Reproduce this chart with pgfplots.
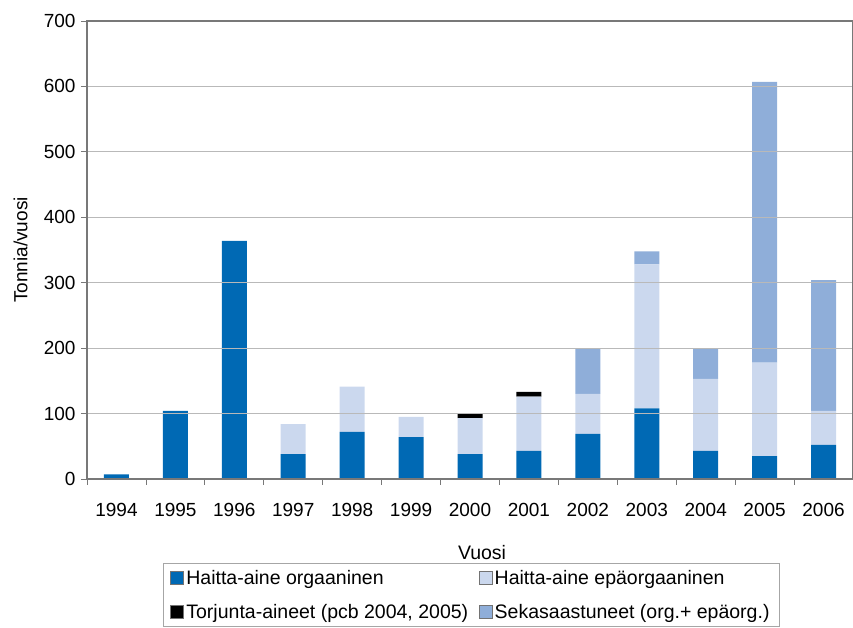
\documentclass[border=0pt]{standalone}
\usepackage{fontspec}
\setmainfont{Liberation Sans}
\usepackage{pgfplots}
\pgfplotsset{compat=1.18}
\definecolor{orgc}{RGB}{0,105,180}
\definecolor{inorgc}{RGB}{203,216,238}
\definecolor{sekac}{RGB}{143,174,217}
\definecolor{axisgray}{RGB}{120,120,120}
\definecolor{gridgray}{RGB}{185,185,185}

\begin{document}
\begin{tikzpicture}
\begin{axis}[scale only axis, width=766pt, height=458pt,
  ybar stacked, bar width=25pt,
  xmin=-0.5, xmax=12.5, ymin=0, ymax=700,
  xtick={0,1,2,3,4,5,6,7,8,9,10,11,12},
  xticklabels={1994,1995,1996,1997,1998,1999,2000,2001,2002,2003,2004,2005,2006},
  minor xtick={-0.5,0.5,...,12.5},
  ytick={0,100,...,700},
  tick align=outside, tick pos=left,
  major tick length=6pt, minor tick length=6pt,
  major x tick style={draw=none},
  tick style={axisgray, line width=0.8pt},
  ymajorgrids, grid style={gridgray, line width=0.9pt},
  axis line style={axisgray, line width=1.6pt},
  axis on top,
  /pgf/number format/assume math mode=true,
  tick label style={font=\fontsize{19}{22}\selectfont},
  xticklabel style={yshift=-15pt},
  yticklabel style={xshift=-2pt},
  ylabel={Tonnia/vuosi},
  ylabel style={at={(axis description cs:-0.0868,0.5)}, anchor=center, font=\fontsize{19}{22}\selectfont},
  xlabel={Vuosi},
  xlabel style={at={(axis description cs:0.5157,-0.1616)}, anchor=center, font=\fontsize{19.5}{22}\selectfont},
  legend columns=2,
  legend cell align=left,
  legend image code/.code={\draw[#1,draw=black!55,line width=0.5pt] (0pt,-6.5pt) rectangle (13pt,6.5pt);},
  legend style={at={(axis description cs:0.0992,-0.1834)}, anchor=north west,
    draw=gray!70, line width=0.8pt, font=\fontsize{19.5}{22}\selectfont,
    nodes={inner xsep=2.5pt},
    row sep=14pt, inner xsep=7pt, inner ysep=5pt,
    /tikz/every even column/.append style={column sep=8pt}},
]
\addplot[fill=orgc, draw=none] coordinates {(0,7) (1,104) (2,364) (3,38) (4,72) (5,64) (6,38) (7,43) (8,69) (9,108) (10,43) (11,35) (12,52)};
\addlegendentry{Haitta-aine orgaaninen}
\addplot[fill=inorgc, draw=none] coordinates {(0,0) (1,0) (2,0) (3,46) (4,69) (5,31) (6,55) (7,83) (8,61) (9,220) (10,110) (11,143) (12,52)};
\addlegendentry{Haitta-aine epäorgaaninen}
\addplot[fill=black, draw=none] coordinates {(0,0) (1,0) (2,0) (3,0) (4,0) (5,0) (6,7) (7,7) (8,0) (9,0) (10,0) (11,0) (12,0)};
\addlegendentry{Torjunta-aineet (pcb 2004, 2005)}
\addplot[fill=sekac, draw=none] coordinates {(0,0) (1,0) (2,0) (3,0) (4,0) (5,0) (6,0) (7,0) (8,70) (9,20) (10,46) (11,429) (12,200)};
\addlegendentry{Sekasaastuneet (org.+ epäorg.)}
\end{axis}
\pgfresetboundingbox
\path[use as bounding box] (-87pt,-149pt) rectangle (766pt,479pt);
\end{tikzpicture}
\end{document}
